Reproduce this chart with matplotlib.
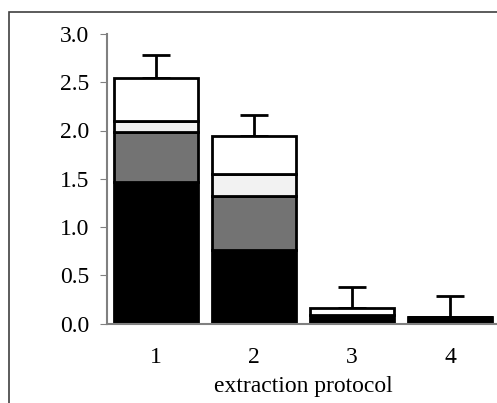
import numpy as np
import matplotlib.pyplot as plt
from matplotlib.patches import Rectangle

# stacked segments per extraction protocol
protocols = ["1", "2", "3", "4"]
black_part = [1.465, 0.76, 0.09, 0.07]
gray_part = [0.515, 0.56, 0.0, 0.0]
light_part = [0.12, 0.23, 0.0, 0.0]
white_part = [0.445, 0.39, 0.07, 0.0]
err_up = [0.235, 0.22, 0.22, 0.21]

plt.rcParams['font.family'] = ['Liberation Serif', 'DejaVu Serif']

fig = plt.figure(figsize=(4.97, 4.03), dpi=100)
# outer frame around the figure
fig.patches.append(Rectangle((9 / 497, -0.1), 1.2, 1 - 12 / 403 + 0.1,
                             transform=fig.transFigure, fill=False,
                             edgecolor='#404040', linewidth=1.2))

ax = fig.add_axes([107 / 497, 79.5 / 403, 392 / 497, 289.5 / 403])
x = np.arange(1, len(protocols) + 1)
w = 0.85

bottom = np.zeros(len(protocols))
for vals, col in [(black_part, 'black'), (gray_part, '#737373'),
                  (light_part, '#f2f2f2'), (white_part, 'white')]:
    vals = np.array(vals)
    ax.bar(x, vals, w, bottom=bottom, color=col, edgecolor='black',
           linewidth=2, zorder=2)
    bottom = bottom + vals

ax.errorbar(x, bottom, yerr=[np.zeros(len(x)), err_up], fmt='none',
            ecolor='black', elinewidth=2, capsize=10, capthick=2, zorder=1)

ax.set_xlim(0.5, 4.5)
ax.set_ylim(0, 3.0)
ax.set_yticks(np.arange(0, 3.01, 0.5))
ax.set_yticklabels([f"{v:.1f}" for v in np.arange(0, 3.01, 0.5)])
ax.set_xticks(x)
ax.set_xticklabels(protocols)
ax.tick_params(axis='x', length=0, pad=17, labelsize=17)
ax.tick_params(axis='y', length=5, color='#808080', pad=8, labelsize=17)
ax.set_xlabel("extraction protocol", fontsize=17, labelpad=5.5)

for s in ['top', 'right']:
    ax.spines[s].set_visible(False)
for s in ['left', 'bottom']:
    ax.spines[s].set_color('#808080')
    ax.spines[s].set_linewidth(1.5)

fig.savefig("out.png", dpi=100)
